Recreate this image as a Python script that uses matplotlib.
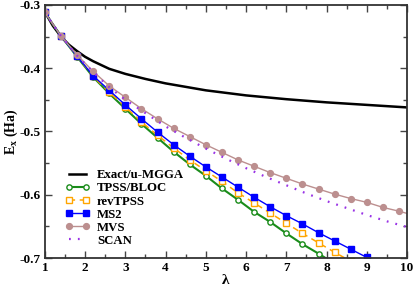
import matplotlib
matplotlib.use("Agg")
import matplotlib.pyplot as plt
import numpy as np

# ---- data ----
lam_exact = [1.0, 1.2, 1.4, 1.6, 1.8, 2.0, 2.2, 2.6, 3.0, 3.5, 4.0, 5.0, 6.0, 7.0, 8.0, 9.0, 10.0]
ex_exact = [-0.311, -0.333, -0.350, -0.363, -0.373, -0.382, -0.389, -0.401, -0.409, -0.417, -0.424,
            -0.435, -0.443, -0.449, -0.454, -0.458, -0.462]

lam_pts = [1.0, 1.4, 1.8, 2.2, 2.6, 3.0, 3.4, 3.8, 4.2, 4.6, 5.0, 5.4, 5.8, 6.2, 6.6, 7.0,
           7.4, 7.8, 8.2, 8.6, 9.0, 9.4, 9.8, 10.2]
ex_tpss = [-0.312, -0.349, -0.382, -0.414, -0.440, -0.464, -0.488, -0.510, -0.532, -0.552, -0.570,
           -0.590, -0.608, -0.627, -0.643, -0.661, -0.678, -0.693, -0.709]
ex_revtpss = [-0.312, -0.349, -0.381, -0.413, -0.438, -0.461, -0.485, -0.506, -0.526, -0.545, -0.562,
              -0.579, -0.597, -0.613, -0.629, -0.645, -0.661, -0.676, -0.691, -0.705]
ex_ms2 = [-0.312, -0.349, -0.381, -0.412, -0.435, -0.458, -0.480, -0.501, -0.521, -0.539, -0.556,
          -0.572, -0.588, -0.604, -0.619, -0.633, -0.646, -0.660, -0.673, -0.686, -0.699, -0.712]
ex_mvs = [-0.312, -0.349, -0.379, -0.405, -0.428, -0.446, -0.464, -0.480, -0.495, -0.508, -0.521,
          -0.533, -0.545, -0.555, -0.565, -0.574, -0.583, -0.591, -0.599, -0.606, -0.612, -0.620,
          -0.626, -0.633]

lam_scan = [1.0, 1.4, 1.8, 2.2, 2.6, 3.0, 3.5, 4.0, 4.5, 5.0, 5.5, 6.0, 6.5, 7.0, 7.5, 8.0, 8.5,
            9.0, 9.5, 10.0]
ex_scan = [-0.312, -0.349, -0.380, -0.406, -0.430, -0.450, -0.471, -0.492, -0.510, -0.527, -0.543,
           -0.558, -0.572, -0.585, -0.598, -0.610, -0.621, -0.632, -0.642, -0.651]

labels = ["Exact/u-MGGA", "TPSS/BLOC", "revTPSS", "MS2", "MVS", "SCAN"]
xticks = [1, 2, 3, 4, 5, 6, 7, 8, 9, 10]
yticks = [-0.7, -0.6, -0.5, -0.4, -0.3]

plt.rcParams['font.family'] = ['Liberation Serif', 'DejaVu Serif']
plt.rcParams['font.weight'] = 'bold'
plt.rcParams['mathtext.fontset'] = 'custom'
plt.rcParams['mathtext.rm'] = 'Liberation Serif:bold'
plt.rcParams['mathtext.it'] = 'Liberation Serif:bold'
plt.rcParams['mathtext.bf'] = 'Liberation Serif:bold'

fig = plt.figure(figsize=(4.15, 2.88), dpi=100)
ax = fig.add_axes([0.108, 0.104, 0.873, 0.879])

ms = 3.8
ax.plot(lam_exact, ex_exact, color='black', lw=1.8, label=labels[0])
ax.plot(lam_pts[:len(ex_tpss)], ex_tpss, color='#1a8c1a', lw=1.5, marker='o', ms=ms,
        mfc='white', mec='#1a8c1a', mew=1.0, label=labels[1])
ax.plot(lam_pts[:len(ex_revtpss)], ex_revtpss, color='#ffa500', lw=1.1, ls=(0, (4, 3)), marker='s', ms=ms,
        mfc='white', mec='#ffa500', mew=1.0, label=labels[2])
ax.plot(lam_pts[:len(ex_ms2)], ex_ms2, color='#0000ff', lw=1.0, marker='s', ms=ms,
        mfc='#0000ff', mec='#0000ff', label=labels[3])
ax.plot(lam_pts[:len(ex_mvs)], ex_mvs, color='#bc8f8f', lw=1.0, marker='o', ms=ms + 0.4,
        mfc='#bc8f8f', mec='#bc8f8f', label=labels[4])
ax.plot(lam_scan, ex_scan, color='#9932e6', lw=1.6, ls=(0, (0.8, 3.2)), label=labels[5])

ax.set_xlim(1, 10)
ax.set_ylim(-0.7, -0.3)
ax.set_xticks(xticks)
ax.set_yticks(yticks)
ax.set_xticks(np.arange(1.5, 10, 1.0), minor=True)
ax.set_yticks(np.arange(-0.65, -0.3, 0.1), minor=True)
ax.set_yticklabels([f"{v:.1f}" for v in yticks])
ax.tick_params(which='both', direction='in', top=True, right=True, labelsize=9.5, color='#444444')
ax.tick_params(which='major', length=5, width=1.0, pad=3)
ax.tick_params(which='minor', length=3, width=1.0)
for lab in ax.get_xticklabels() + ax.get_yticklabels():
    lab.set_fontweight('bold')
for s in ax.spines.values():
    s.set_linewidth(1.3)
    s.set_color('#333333')

ax.set_xlabel('λ', fontsize=11, fontweight='bold', labelpad=0)
ax.set_ylabel(r'E$_{\rm x}$ (Ha)', fontsize=10, fontweight='bold')
ax.yaxis.set_label_coords(-0.068, 0.5)

leg = ax.legend(loc='lower left', bbox_to_anchor=(0.035, 0.015), frameon=False, numpoints=2,
                fontsize=9.2, handlelength=1.9, handletextpad=0.6, labelspacing=0.08, borderaxespad=0.2)
for t in leg.get_texts():
    t.set_fontweight('bold')

fig.savefig('out.png', dpi=100)
